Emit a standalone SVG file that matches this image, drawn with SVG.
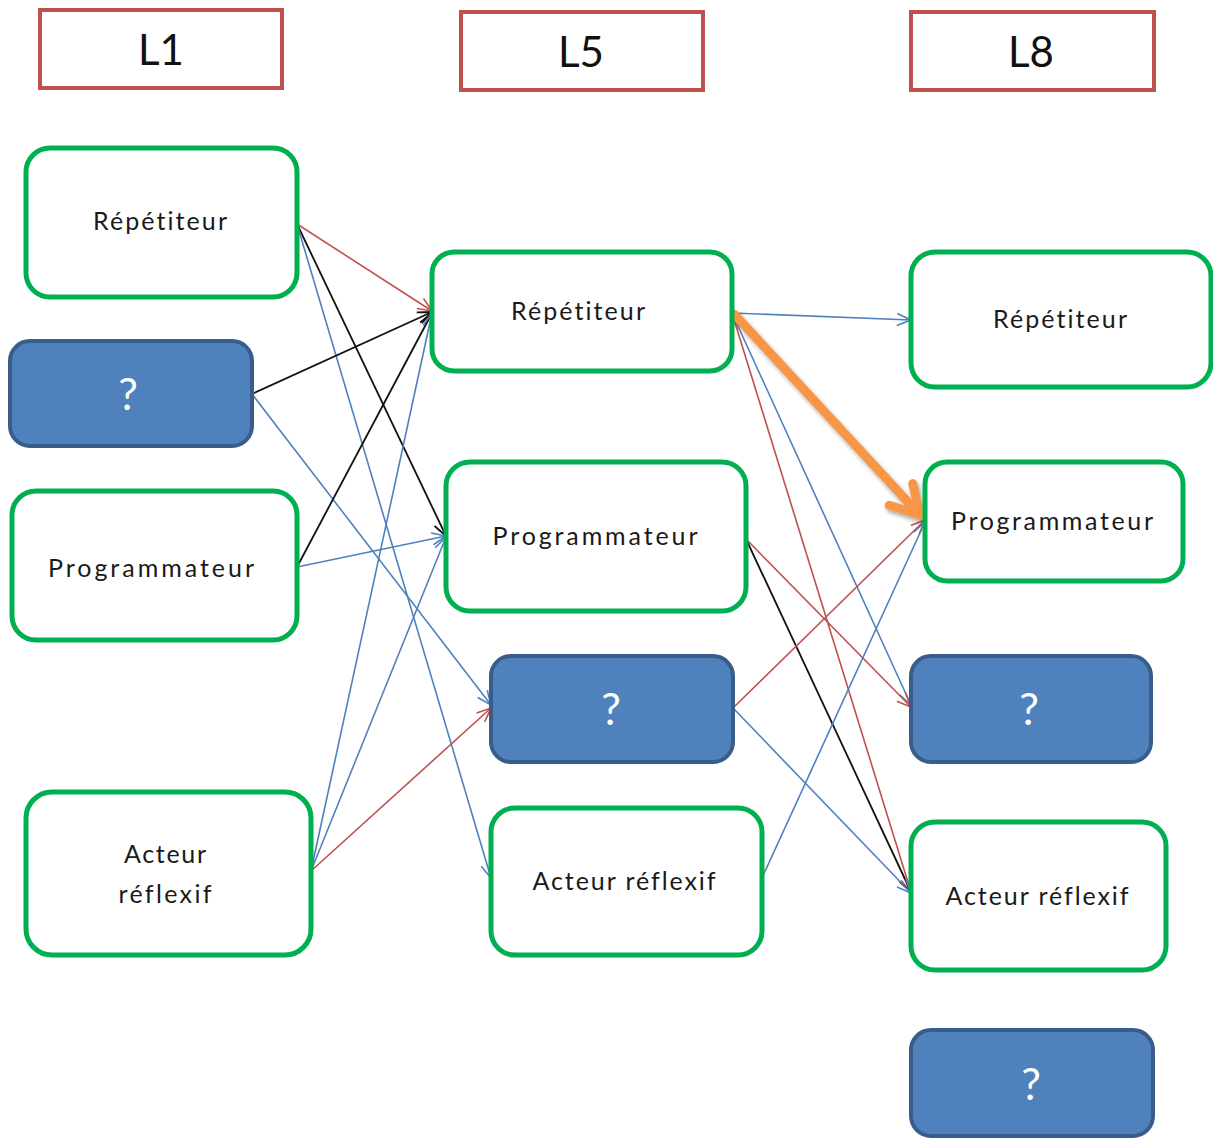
<svg xmlns="http://www.w3.org/2000/svg" width="1213" height="1138" viewBox="0 0 1213 1138">
<defs>
<style>
.hdr{fill:#fff;stroke:#c0504d;stroke-width:4}
.g{fill:#fff;stroke:#00b050;stroke-width:5}
.q{fill:#4f81bd;stroke:#385d8a;stroke-width:4}
.t{font-family:Lato,"Liberation Sans",sans-serif;font-size:25px;fill:#1a1a1a;text-anchor:middle;font-variant-ligatures:none}
.th{font-family:Lato,"Liberation Sans",sans-serif;font-size:42px;fill:#111;text-anchor:middle}
.tq{font-family:Lato,"Liberation Sans",sans-serif;font-size:44px;fill:#fff;text-anchor:middle}
.r{stroke:#c0504d;stroke-width:1.6;fill:none;marker-end:url(#mr)}
.b{stroke:#4f81bd;stroke-width:1.6;fill:none;marker-end:url(#mb)}
.k{stroke:#111;stroke-width:1.8;fill:none;marker-end:url(#mk)}
.o{stroke:#f79646;stroke-width:9;fill:none;stroke-linecap:round;marker-end:url(#mo)}
</style>
<marker id="mr" viewBox="0 0 16 16" refX="15" refY="8" markerWidth="16" markerHeight="16" orient="auto" markerUnits="userSpaceOnUse"><path d="M1,2 L15,8 L1,14" fill="none" stroke="#c0504d" stroke-width="1.6"/></marker>
<marker id="mb" viewBox="0 0 16 16" refX="15" refY="8" markerWidth="16" markerHeight="16" orient="auto" markerUnits="userSpaceOnUse"><path d="M1,2 L15,8 L1,14" fill="none" stroke="#4f81bd" stroke-width="1.6"/></marker>
<marker id="mk" viewBox="0 0 16 16" refX="15" refY="8" markerWidth="16" markerHeight="16" orient="auto" markerUnits="userSpaceOnUse"><path d="M1,2 L15,8 L1,14" fill="none" stroke="#111" stroke-width="1.8"/></marker>
<marker id="mo" viewBox="0 0 40 44" refX="34" refY="22" markerWidth="40" markerHeight="44" orient="auto" markerUnits="userSpaceOnUse"><path d="M6,6 L34,22 L6,38" fill="none" stroke="#f79646" stroke-width="9" stroke-linecap="round" stroke-linejoin="round"/></marker>
<filter id="sh" x="-20%" y="-20%" width="140%" height="140%"><feGaussianBlur in="SourceAlpha" stdDeviation="2"/><feOffset dx="2" dy="3"/><feComponentTransfer><feFuncA type="linear" slope="0.35"/></feComponentTransfer><feMerge><feMergeNode/><feMergeNode in="SourceGraphic"/></feMerge></filter>
</defs>
<rect width="1213" height="1138" fill="#fff"/>

<g id="header-L1"><rect class="hdr" x="40" y="10" width="242" height="78"/><text class="th" x="161" y="65">L1</text></g>
<g id="header-L5"><rect class="hdr" x="461" y="12" width="242" height="78"/><text class="th" x="581" y="67">L5</text></g>
<g id="header-L8"><rect class="hdr" x="911" y="12" width="243" height="78"/><text class="th" x="1031" y="67">L8</text></g>

<g id="connectors">
<line class="r" x1="297" y1="224" x2="432" y2="311"/>
<line class="k" x1="297" y1="224" x2="446" y2="536"/>
<line class="b" x1="297" y1="224" x2="491" y2="878"/>
<line class="k" x1="252" y1="394" x2="432" y2="312"/>
<line class="b" x1="252" y1="394" x2="491" y2="705"/>
<line class="k" x1="297" y1="567" x2="432" y2="313"/>
<line class="b" x1="297" y1="567" x2="446" y2="536"/>
<line class="b" x1="311" y1="871" x2="432" y2="313"/>
<line class="b" x1="311" y1="871" x2="446" y2="537"/>
<line class="r" x1="311" y1="871" x2="491" y2="708"/>
<line class="b" x1="732" y1="313" x2="911" y2="320"/>
<line class="r" x1="732" y1="313" x2="911" y2="892"/>
<line class="b" x1="732" y1="313" x2="911" y2="705"/>
<line class="r" x1="746" y1="539" x2="911" y2="707"/>
<line class="k" x1="746" y1="539" x2="911" y2="892"/>
<line class="r" x1="733" y1="708" x2="925" y2="520"/>
<line class="b" x1="733" y1="708" x2="911" y2="893"/>
<line class="b" x1="762" y1="878" x2="925" y2="522"/>
<line class="o" x1="734" y1="314" x2="920" y2="515" filter="url(#sh)"/>
</g>

<g id="l1-repetiteur"><rect class="g" x="26" y="148" width="271" height="149" rx="24"/><text class="t" x="160" y="230" textLength="134" lengthAdjust="spacing">Répétiteur</text></g>
<g id="l1-unknown"><rect class="q" x="10" y="341" width="242" height="105" rx="20"/><text class="tq" x="128" y="410">?</text></g>
<g id="l1-programmateur"><rect class="g" x="12" y="491" width="285" height="149" rx="24"/><text class="t" x="151" y="577" textLength="206" lengthAdjust="spacing">Programmateur</text></g>
<g id="l1-acteur"><rect class="g" x="26" y="792" width="285" height="163" rx="26"/><text class="t" x="165" y="863" textLength="82" lengthAdjust="spacing">Acteur</text><text class="t" x="165" y="903" textLength="93" lengthAdjust="spacing">réflexif</text></g>

<g id="l5-repetiteur"><rect class="g" x="432" y="252" width="300" height="119" rx="22"/><text class="t" x="578" y="320" textLength="134" lengthAdjust="spacing">Répétiteur</text></g>
<g id="l5-programmateur"><rect class="g" x="446" y="462" width="300" height="149" rx="24"/><text class="t" x="595" y="545" textLength="205" lengthAdjust="spacing">Programmateur</text></g>
<g id="l5-unknown"><rect class="q" x="491" y="656" width="242" height="106" rx="20"/><text class="tq" x="611" y="725">?</text></g>
<g id="l5-acteur"><rect class="g" x="491" y="808" width="271" height="147" rx="24"/><text class="t" x="624" y="890" textLength="183" lengthAdjust="spacing">Acteur réflexif</text></g>

<g id="l8-repetiteur"><rect class="g" x="911" y="252" width="300" height="135" rx="24"/><text class="t" x="1060" y="328" textLength="134" lengthAdjust="spacing">Répétiteur</text></g>
<g id="l8-programmateur"><rect class="g" x="925" y="462" width="258" height="119" rx="22"/><text class="t" x="1052" y="530" textLength="202" lengthAdjust="spacing">Programmateur</text></g>
<g id="l8-unknown-1"><rect class="q" x="911" y="656" width="240" height="106" rx="20"/><text class="tq" x="1029" y="725">?</text></g>
<g id="l8-acteur"><rect class="g" x="911" y="822" width="255" height="148" rx="24"/><text class="t" x="1037" y="905" textLength="183" lengthAdjust="spacing">Acteur réflexif</text></g>
<g id="l8-unknown-2"><rect class="q" x="911" y="1030" width="242" height="106" rx="20"/><text class="tq" x="1031" y="1100">?</text></g>
</svg>
